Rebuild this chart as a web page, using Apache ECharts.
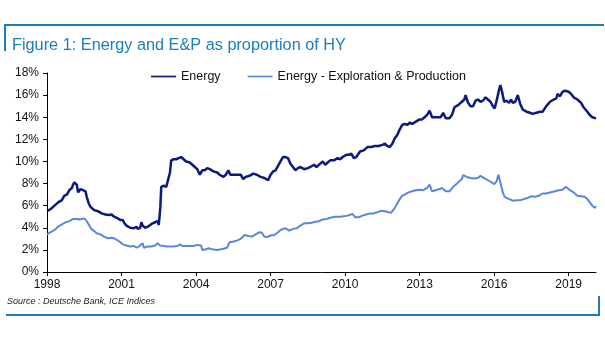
<!DOCTYPE html>
<html><head><meta charset="utf-8">
<script src="https://cdn.jsdelivr.net/npm/echarts@6/dist/echarts.min.js"></script>
<style>html,body{margin:0;padding:0;background:#fff}#c{width:605px;height:341px}</style>
</head><body><div id="c"></div>
<script>
var titleText = 'Figure 1: Energy and E&P as proportion of HY';
var sourceText = 'Source : Deutsche Bank, ICE Indices';
var seriesNames = ['Energy', 'Energy - Exploration & Production'];
var xTicks = [1998, 2001, 2004, 2007, 2010, 2013, 2016, 2019];

var energyYears = [1998.0,1998.15,1998.3,1998.45,1998.6,1998.7,1998.8,1998.9,1999.0,1999.05,1999.1,1999.2,1999.25,1999.35,1999.45,1999.55,1999.6,1999.68,1999.75,1999.9,2000.05,2000.2,2000.35,2000.5,2000.6,2000.7,2000.85,2000.95,2001.0,2001.05,2001.12,2001.2,2001.35,2001.5,2001.6,2001.65,2001.75,2001.8,2001.85,2001.95,2002.1,2002.25,2002.35,2002.45,2002.5,2002.56,2002.6,2002.7,2002.8,2002.85,2002.95,2003.0,2003.1,2003.2,2003.3,2003.4,2003.5,2003.6,2003.75,2003.85,2003.95,2004.05,2004.15,2004.25,2004.35,2004.45,2004.55,2004.7,2004.85,2004.95,2005.1,2005.2,2005.3,2005.38,2005.5,2005.65,2005.8,2005.9,2006.0,2006.15,2006.3,2006.45,2006.6,2006.75,2006.9,2007.0,2007.1,2007.2,2007.3,2007.4,2007.5,2007.6,2007.7,2007.8,2007.9,2008.0,2008.1,2008.2,2008.35,2008.5,2008.6,2008.75,2008.85,2009.0,2009.1,2009.2,2009.3,2009.4,2009.55,2009.7,2009.8,2009.9,2010.05,2010.15,2010.25,2010.35,2010.45,2010.6,2010.75,2010.9,2011.05,2011.2,2011.35,2011.5,2011.6,2011.7,2011.8,2011.9,2012.0,2012.1,2012.2,2012.3,2012.4,2012.5,2012.6,2012.7,2012.85,2013.0,2013.1,2013.2,2013.3,2013.4,2013.5,2013.7,2013.85,2013.95,2014.05,2014.2,2014.3,2014.4,2014.55,2014.7,2014.8,2014.85,2014.95,2015.05,2015.15,2015.25,2015.35,2015.45,2015.55,2015.65,2015.75,2015.85,2015.95,2016.02,2016.1,2016.2,2016.25,2016.32,2016.4,2016.5,2016.6,2016.68,2016.75,2016.85,2016.95,2017.05,2017.15,2017.3,2017.45,2017.55,2017.7,2017.85,2017.95,2018.1,2018.25,2018.4,2018.5,2018.55,2018.65,2018.75,2018.85,2019.0,2019.1,2019.2,2019.35,2019.5,2019.6,2019.75,2019.85,2019.95,2020.1];
var energyValues = [5.5,5.7,6.0,6.3,6.5,6.9,7.0,7.4,7.6,7.9,8.1,7.9,7.2,7.5,7.4,7.3,6.8,6.2,5.9,5.6,5.5,5.3,5.2,5.15,5.2,5.0,4.85,4.7,4.6,4.7,4.4,4.2,4.0,3.95,4.1,3.9,4.0,4.5,4.2,4.0,4.15,4.4,4.5,4.6,4.25,5.8,7.7,7.8,7.7,7.7,9.0,10.1,10.2,10.2,10.3,10.4,10.2,10.0,9.9,9.7,9.5,9.3,8.8,9.2,9.2,9.4,9.3,9.1,9.0,8.8,8.6,8.8,9.2,8.8,8.8,8.8,8.8,8.4,8.6,8.7,8.9,8.8,8.6,8.5,8.3,8.8,9.1,9.2,9.6,10.0,10.4,10.4,10.3,9.8,9.5,9.2,9.4,9.5,9.3,9.4,9.5,9.7,9.5,9.8,10.0,9.7,9.9,10.1,10.1,10.3,10.2,10.4,10.6,10.6,10.7,10.3,10.4,10.9,11.0,11.3,11.3,11.4,11.4,11.5,11.6,11.4,11.3,11.6,12.1,12.4,12.9,13.3,13.4,13.3,13.5,13.4,13.6,13.8,13.8,14.0,14.2,14.6,14.0,14.0,14.0,14.4,13.9,13.9,14.2,14.9,15.1,15.4,15.6,16.0,15.3,15.0,15.0,15.5,15.6,15.4,15.5,15.8,15.6,15.4,15.0,14.8,15.5,16.5,16.9,16.3,15.4,15.5,15.3,15.6,15.3,15.4,16.0,15.2,14.7,14.5,14.4,14.3,14.4,14.5,14.5,15.0,15.4,15.6,15.7,16.1,15.9,16.3,16.4,16.3,16.1,15.8,15.6,15.3,14.9,14.5,14.2,14.0,13.9];

var epYears = [1998.0,1998.15,1998.3,1998.45,1998.6,1998.75,1998.9,1999.05,1999.2,1999.3,1999.4,1999.5,1999.6,1999.68,1999.78,1999.9,2000.0,2000.15,2000.3,2000.45,2000.6,2000.75,2000.85,2000.95,2001.05,2001.2,2001.35,2001.5,2001.6,2001.7,2001.85,2001.9,2002.05,2002.2,2002.35,2002.45,2002.55,2002.7,2002.85,2003.05,2003.25,2003.35,2003.45,2003.6,2003.8,2003.9,2004.05,2004.2,2004.25,2004.4,2004.5,2004.65,2004.85,2005.0,2005.1,2005.25,2005.35,2005.5,2005.6,2005.75,2005.85,2005.95,2006.1,2006.25,2006.4,2006.55,2006.65,2006.75,2006.85,2007.0,2007.15,2007.3,2007.4,2007.5,2007.6,2007.75,2007.9,2008.05,2008.2,2008.35,2008.5,2008.65,2008.8,2008.95,2009.1,2009.25,2009.4,2009.6,2009.8,2009.95,2010.1,2010.3,2010.4,2010.55,2010.7,2010.85,2011.0,2011.15,2011.3,2011.45,2011.6,2011.75,2011.85,2012.0,2012.1,2012.2,2012.3,2012.4,2012.55,2012.7,2012.85,2013.0,2013.15,2013.3,2013.4,2013.5,2013.65,2013.8,2013.9,2014.05,2014.2,2014.35,2014.45,2014.6,2014.7,2014.75,2014.9,2015.05,2015.2,2015.35,2015.45,2015.6,2015.75,2015.9,2016.0,2016.1,2016.17,2016.25,2016.35,2016.42,2016.5,2016.6,2016.75,2016.9,2017.05,2017.2,2017.35,2017.5,2017.65,2017.8,2017.95,2018.1,2018.25,2018.45,2018.6,2018.75,2018.9,2019.05,2019.2,2019.35,2019.5,2019.65,2019.75,2019.85,2019.95,2020.05,2020.1];
var epValues = [3.4,3.6,3.8,4.1,4.3,4.5,4.6,4.8,4.8,4.75,4.8,4.85,4.6,4.3,3.9,3.7,3.5,3.4,3.2,3.05,3.1,3.0,2.85,2.7,2.5,2.4,2.3,2.35,2.2,2.3,2.6,2.2,2.3,2.3,2.4,2.6,2.4,2.35,2.3,2.3,2.35,2.5,2.35,2.35,2.35,2.35,2.45,2.4,2.0,2.05,2.15,2.05,2.0,2.05,2.1,2.2,2.7,2.75,2.8,2.95,3.1,3.35,3.25,3.2,3.4,3.6,3.55,3.2,3.15,3.3,3.35,3.6,3.8,3.9,3.95,3.75,3.9,3.95,4.2,4.4,4.4,4.45,4.55,4.6,4.75,4.8,4.9,5.0,5.0,5.05,5.1,5.25,4.95,4.95,5.1,5.2,5.3,5.3,5.4,5.55,5.5,5.4,5.35,5.8,6.2,6.6,6.9,7.0,7.2,7.3,7.4,7.45,7.4,7.6,7.9,7.3,7.4,7.5,7.6,7.3,7.3,7.7,7.9,8.2,8.4,8.75,8.6,8.5,8.45,8.5,8.7,8.5,8.3,8.1,7.95,8.2,8.8,8.1,7.2,6.8,6.95,6.6,6.45,6.5,6.5,6.6,6.7,6.85,6.8,6.9,7.1,7.1,7.2,7.3,7.4,7.45,7.7,7.4,7.2,6.9,6.85,6.8,6.6,6.3,6.0,5.8,5.95];

function pairs(xs, ys){ return xs.map(function(x,i){ return [x, ys[i]]; }); }

var blue = '#1a7dbf';
var chart = echarts.init(document.getElementById('c'), null, {renderer:'canvas'});
chart.setOption({
  animation: false,
  backgroundColor: '#ffffff',
  textStyle: {fontFamily: 'Liberation Sans, Arial, sans-serif'},
  title: {
    text: titleText, left: 7, top: 33,
    textStyle: {color: blue, fontSize: 16.3, fontWeight: 'normal', fontFamily: 'Liberation Sans, Arial, sans-serif'}
  },
  graphic: [
    {type:'line', shape:{x1:5,y1:25,x2:604,y2:25}, style:{stroke:blue,lineWidth:2}},
    {type:'line', shape:{x1:5,y1:24,x2:5,y2:51}, style:{stroke:blue,lineWidth:2}},
    {type:'line', shape:{x1:6,y1:315,x2:600,y2:315}, style:{stroke:blue,lineWidth:2}},
    {type:'line', shape:{x1:599,y1:296,x2:599,y2:316}, style:{stroke:blue,lineWidth:2}},
    {type:'text', left: 7, top: 297, style:{text: sourceText, fill:'#222', font:'italic 9px "Liberation Sans", Arial, sans-serif'}}
  ],
  legend: {
    left: 151, top: 70, padding: 0, itemWidth: 25, itemHeight: 12, itemGap: 27,
    icon: 'path://M0,5 L30,5 L30,7 L0,7 Z',
    textStyle: {color:'#111', fontSize: 12.5},
    data: seriesNames
  },
  grid: {left: 47, top: 73, right: 9, bottom: 69},
  xAxis: {
    type: 'value', min: 1998, max: 2020.1,
    axisLine: {show: true, lineStyle: {color:'#000', width: 1}},
    axisTick: {show: true, length: 4, lineStyle:{color:'#000'}, customValues: xTicks},
    axisLabel: {color:'#111', fontSize: 12, margin: 7, customValues: xTicks, formatter: function(v){return String(v);}},
    splitLine: {show: false}
  },
  yAxis: {
    type: 'value', min: 0, max: 18, interval: 2,
    axisLine: {show: true, lineStyle: {color:'#000', width: 1}},
    axisTick: {show: true, length: 4, lineStyle:{color:'#000'}},
    axisLabel: {color:'#111', fontSize: 12, margin: 8, formatter: '{value}%'},
    splitLine: {show: false}
  },
  series: [
    {name: seriesNames[0], type:'line', showSymbol:false, data: pairs(energyYears, energyValues),
     lineStyle:{color:'#0c1a7d', width:2.5}, itemStyle:{color:'#0c1a7d'}},
    {name: seriesNames[1], type:'line', showSymbol:false, data: pairs(epYears, epValues),
     lineStyle:{color:'#5b86e0', width:2}, itemStyle:{color:'#5b86e0'}}
  ]
});
</script></body></html>
